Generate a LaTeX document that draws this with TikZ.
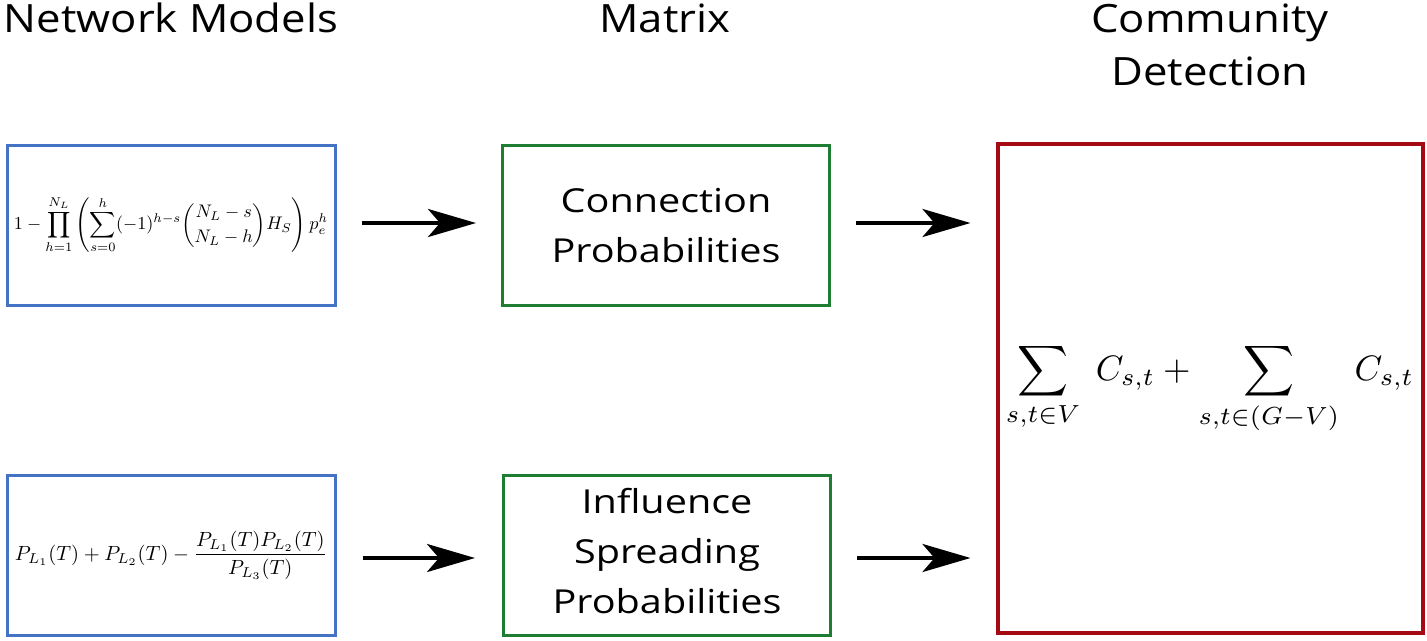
\documentclass[tikz,border=0pt]{standalone}
\usepackage{amsmath}
\usepackage{graphicx}
\usepackage{fontspec}
\setmainfont{Open Sans}
\usetikzlibrary{arrows.meta}
\definecolor{bblue}{RGB}{68,114,196}
\definecolor{ggreen}{RGB}{30,125,50}
\definecolor{rred}{RGB}{165,10,20}
\newcommand{\widetitle}[1]{\scalebox{1.12}[1]{\begin{tabular}{@{}c@{}}#1\end{tabular}}}
\newcommand{\widebox}[1]{\scalebox{1.2}[1]{\begin{tabular}{@{}c@{}}#1\end{tabular}}}
\begin{document}
\begin{tikzpicture}[x=1pt,y=-1pt,
  title/.style={font=\fontsize{39}{53}\selectfont, inner sep=0},
  boxtext/.style={font=\fontsize{33}{50}\selectfont, inner sep=0},
  bluebox/.style={draw=bblue, line width=3pt, minimum width=328pt, minimum height=160pt, inner sep=0},
  greenbox/.style={draw=ggreen, line width=3pt, minimum width=327pt, minimum height=160pt, inner sep=0},
  redbox/.style={draw=rred, line width=4pt, minimum width=425pt, minimum height=489pt, inner sep=0},
  arr/.style={line width=4pt, -{Stealth[length=48pt,width=28pt,inset=12pt]}}]
\useasboundingbox (0,0) rectangle (1427,640);
% titles
\node[title] (t1) at (171,22) {\widetitle{Network Models}};
\node[title] (t2) at (665,22) {\widetitle{Matrix}};
\node[title] (t3) at (1210,48) {\widetitle{Community\\Detection}};
% boxes
\node[bluebox] (b1) at (171,225) {\resizebox{314pt}{!}{$\displaystyle 1-\prod_{h=1}^{N_L}\left(\sum_{s=0}^{h}(-1)^{h-s}\binom{N_L-s}{N_L-h}H_S\right)p_e^h$}};
\node[bluebox] (b2) at (171,555) {\resizebox{312pt}{!}{$\displaystyle P_{L_1}(T)+P_{L_2}(T)-\frac{P_{L_1}(T)P_{L_2}(T)}{P_{L_3}(T)}$}};
\node[greenbox] (g1) at (666,225) {};
\node[boxtext] (g1t) at (666,227) {\widebox{Connection\\Probabilities}};
\node[greenbox] (g2) at (667,555) {};
\node[boxtext] (g2t) at (667,553) {\widebox{Influence\\Spreading\\Probabilities}};
\node[redbox] (r) at (1210,388.5) {\resizebox{408pt}{!}{$\displaystyle \sum_{s,t\in V}\;C_{s,t}+\sum_{s,t\in(G-V)}\;C_{s,t}$}};
% arrows
\draw[arr] ([xshift=25pt,yshift=2pt]b1.east) -- ([xshift=-25pt,yshift=2pt]g1.west);
\draw[arr] ([xshift=26pt,yshift=-3pt]b2.east) -- ([xshift=-27pt,yshift=-3pt]g2.west);
\draw[arr] ([xshift=25pt,yshift=2pt]g1.east) -- ([xshift=-25pt,yshift=2pt]r.west |- g1.east);
\draw[arr] ([xshift=25pt,yshift=-3pt]g2.east) -- ([xshift=-25pt,yshift=-3pt]r.west |- g2.east);
\end{tikzpicture}
\end{document}
